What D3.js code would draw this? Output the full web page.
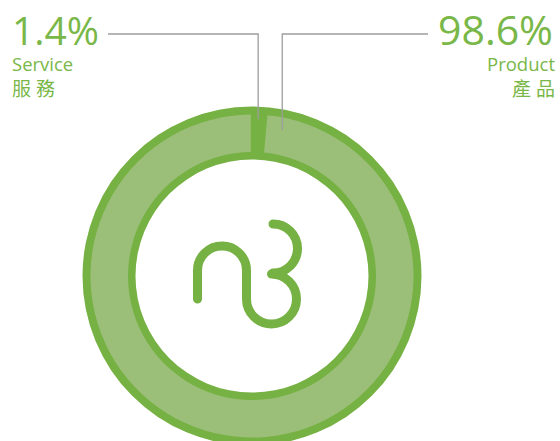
<!DOCTYPE html>
<html>
<head>
<meta charset="utf-8">
<script src="https://cdn.jsdelivr.net/npm/d3@7"></script>
<style>
  body{margin:0;background:#fff;}
  svg{display:block;}
</style>
</head>
<body>
<div id="chart"></div>
<script>
let w=560;
let h=441;

// data
let categories=["Service","Product"];
let categoriesZh=["服務","產品"];
let shares=[1.4,98.6];
let shareLabels=["1.4%","98.6%"];

let darkGreen="#76b143";
let lightGreen="#9bbf78";
let textGreen="#79b748";
let lineGrey="#9d9d9d";

let cx=252, cy=276;

let svg=d3.select("#chart").append("svg")
  .attr("width",w)
  .attr("height",h);

let g=svg.append("g").attr("transform","translate("+cx+","+cy+")");

// dark ring behind
let ringArc=d3.arc().innerRadius(116.5).outerRadius(169.5).startAngle(0).endAngle(2*Math.PI);
g.append("path").attr("d",ringArc()).attr("fill",darkGreen);

let pie=d3.pie().sort(null).value(d=>d)(shares);
let sliceArc=d3.arc().innerRadius(124).outerRadius(161.5).padAngle(0.012);

g.selectAll(".slice").data(pie).enter()
  .append("path")
  .attr("class","slice")
  .attr("d",sliceArc)
  .attr("fill",(d,i)=>i==0 ? darkGreen : lightGreen);

// leader lines
let lineY=34;
let serviceMid=(pie[0].startAngle+pie[0].endAngle)/2;
let sx=cx+140*Math.sin(serviceMid);
let px=cx+150*Math.sin(pie[1].startAngle+0.115);

svg.append("path")
  .attr("d","M108,"+lineY+" H"+sx+" V"+(cy-157))
  .attr("fill","none").attr("stroke",lineGrey).attr("stroke-width",1.3);
svg.append("path")
  .attr("d","M"+px+","+(cy-146)+" V"+lineY+" H428")
  .attr("fill","none").attr("stroke",lineGrey).attr("stroke-width",1.3);

// labels
let labelX=[12,555];
let anchors=["start","end"];
for(let i=0;i<categories.length;i++){
  svg.append("text")
    .text(shareLabels[i])
    .attr("x",labelX[i]+(i==0?0:-2))
    .attr("y",45)
    .attr("text-anchor",anchors[i])
    .style("font-family","'Open Sans', sans-serif")
    .style("font-size",i==0 ? "39px" : "41px")
    .attr("fill",textGreen);
  svg.append("text")
    .text(categories[i])
    .attr("x",labelX[i])
    .attr("y",71)
    .attr("text-anchor",anchors[i])
    .style("font-family","'Open Sans', sans-serif")
    .style("font-size","18.5px")
    .attr("fill",textGreen);
  svg.append("text")
    .text(categoriesZh[i])
    .attr("x",labelX[i]+(i==1?5:0))
    .attr("y",96)
    .attr("text-anchor",anchors[i])
    .style("font-family","'Noto Sans CJK TC', sans-serif")
    .style("font-size","19px")
    .style("letter-spacing","5px")
    .attr("fill",textGreen);
}

// n3 logo in the middle
let logo="M-54.5,23 V-5.5 A24.5,24.5 0 0 1 -5.5,-5.5 V23 A25,25 0 1 0 19.5,-2 "+
  "M21,-3 A24.5,24.5 0 0 0 21,-52";
g.append("path")
  .attr("d",logo)
  .attr("fill","none")
  .attr("stroke",darkGreen)
  .attr("stroke-width",9)
  .attr("stroke-linecap","round")
  .attr("stroke-linejoin","round");
</script>
</body>
</html>
